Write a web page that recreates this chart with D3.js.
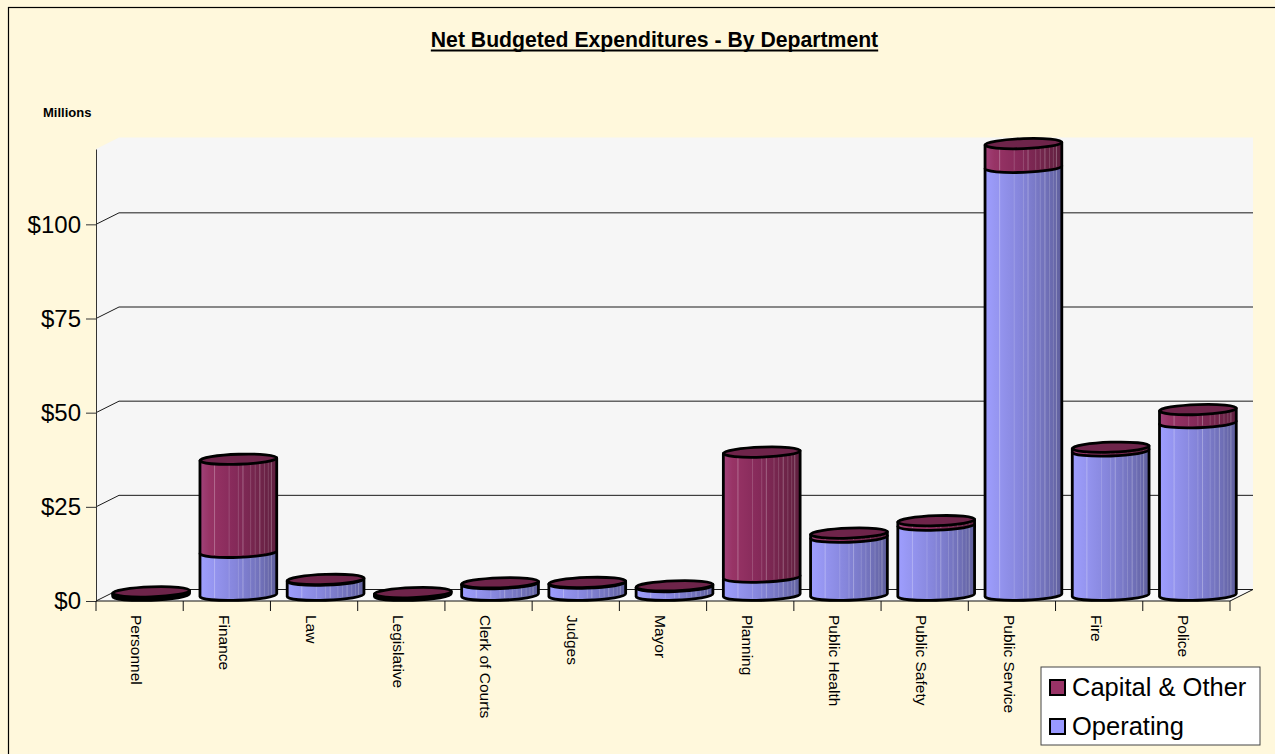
<!DOCTYPE html>
<html>
<head>
<meta charset="utf-8">
<script src="https://cdn.jsdelivr.net/npm/d3@7"></script>
<style>
  html, body { margin: 0; padding: 0; background: #fff8dc; }
  svg { display: block; font-family: "Liberation Sans", Arial, sans-serif; }
</style>
</head>
<body>
<svg id="chart" width="1275" height="754"></svg>
<script>
// Departments and budget amounts (millions of dollars)
const categories = ["Personnel", "Finance", "Law", "Legislative", "Clerk of Courts", "Judges",
  "Mayor", "Planning", "Public Health", "Public Safety", "Public Service", "Fire", "Police"];
const operating = [0.5, 11.4, 4.0, 0.4, 3.1, 3.2, 2.3, 4.8, 15.4, 18.6, 113.6, 38.3, 45.8];
const capital   = [0.4, 24.7, 0.2, 0.3, 0.2, 0.2, 0.2, 33.2, 1.1, 1.2, 6.3, 1.0, 3.5];
const yTicks = [0, 25, 50, 75, 100];
const yMax = 120;
const seriesNames = ["Capital & Other", "Operating"];

const svg = d3.select("#chart");
const W = 1275, H = 754;

// plot geometry (front plane + depth offset of the 3-D box)
const plotLeft = 96, plotRight = 1230, plotBottom = 601, plotTop = 149;
const dx = 23, dy = -11.5;

const y = d3.scaleLinear().domain([0, yMax]).range([plotBottom, plotTop]);
const xCat = d3.scaleBand().domain(categories).range([plotLeft, plotRight]).padding(0);
const xBar = d3.scaleBand().domain(categories).range([plotLeft, plotRight]).paddingInner(0.12).paddingOuter(0.06);

// background and outer frame
svg.append("rect").attr("x", 0).attr("y", 0).attr("width", W).attr("height", H).attr("fill", "#fff8dc");
svg.append("rect").attr("x", 8.5).attr("y", 7.5).attr("width", W + 20).attr("height", H + 20)
  .attr("fill", "none").attr("stroke", "#000").attr("stroke-width", 1.2);

// title
const title = svg.append("text").attr("x", 654.5).attr("y", 46.5).attr("text-anchor", "middle")
  .attr("font-weight", "bold").attr("font-size", 21.2).attr("fill", "#000")
  .text("Net Budgeted Expenditures - By Department");
const tb = title.node().getBBox();
svg.append("rect").attr("x", tb.x).attr("y", 49.5).attr("width", tb.width).attr("height", 2).attr("fill", "#000");

svg.append("text").attr("x", 43).attr("y", 117).attr("font-weight", "bold").attr("font-size", 13)
  .text("Millions");

// walls
const wallFill = "#f6f6f6";
const yTopFront = y(yMax), yTopBack = y(yMax) + dy;
svg.append("path") // back wall
  .attr("d", `M${plotLeft + dx},${yTopBack} L${plotRight + dx},${yTopBack} L${plotRight + dx},${plotBottom + dy} L${plotLeft + dx},${plotBottom + dy} Z`)
  .attr("fill", wallFill);
svg.append("path") // side wall
  .attr("d", `M${plotLeft},${yTopFront} L${plotLeft + dx},${yTopBack} L${plotLeft + dx},${plotBottom + dy} L${plotLeft},${plotBottom} Z`)
  .attr("fill", wallFill);
svg.append("path") // floor
  .attr("d", `M${plotLeft},${plotBottom} L${plotLeft + dx},${plotBottom + dy} L${plotRight + dx},${plotBottom + dy} L${plotRight},${plotBottom} Z`)
  .attr("fill", "#fafafa");

// gridlines on side and back walls
const grid = svg.append("g").attr("stroke", "#1a1a1a").attr("stroke-width", 1).attr("fill", "none");
yTicks.forEach(v => {
  grid.append("path").attr("d", `M${plotLeft},${y(v)} L${plotLeft + dx},${y(v) + dy} L${plotRight + dx},${y(v) + dy}`);
});

// y axis
const yAxis = svg.append("g").attr("transform", `translate(${plotLeft},0)`)
  .call(d3.axisLeft(y).tickValues(yTicks).tickFormat(d => "$" + d).tickSize(10).tickSizeOuter(0).tickPadding(5));
yAxis.select(".domain").attr("stroke", "#333");
yAxis.selectAll(".tick line").attr("stroke", "#333");
yAxis.selectAll(".tick text").attr("font-size", 24).attr("fill", "#000")
  .attr("font-family", "'Liberation Sans', Arial, sans-serif");

// category axis: front floor edge, right floor edge, boundary ticks
const xa = svg.append("g").attr("stroke", "#111").attr("stroke-width", 1).attr("fill", "none");
xa.append("path").attr("d", `M${plotLeft},${plotBottom} L${plotRight},${plotBottom} L${plotRight + dx},${plotBottom + dy}`);
d3.range(categories.length + 1).forEach(i => {
  const xv = xCat.range()[0] + i * xCat.step();
  xa.append("line").attr("x1", xv).attr("x2", xv).attr("y1", plotBottom).attr("y2", plotBottom + 10);
});

// gradients for the cylinder sides
const defs = svg.append("defs");
function sideGradient(id, stops) {
  const g = defs.append("linearGradient").attr("id", id).attr("x1", "0%").attr("x2", "100%").attr("y1", "0%").attr("y2", "0%");
  stops.forEach(([o, c]) => g.append("stop").attr("offset", o).attr("stop-color", c));
}
sideGradient("gOp", [["0%", "#9e9eff"], ["12%", "#9898f4"], ["45%", "#8686dc"], ["80%", "#7070b8"], ["100%", "#5f5f9c"]]);
sideGradient("gCap", [["0%", "#a2427a"], ["12%", "#983466"], ["45%", "#862a5a"], ["80%", "#6f2449"], ["100%", "#5f1f3f"]]);

const seriesStyle = {
  op:  { fill: "url(#gOp)" },
  cap: { fill: "url(#gCap)" }
};
const capTopFill = "#6e244a";
const ry = 5;
const outline = 2.8;
const streaks = [0.19, 0.38, 0.5, 0.56, 0.66, 0.72, 0.78, 0.84, 0.89, 0.93];

const bars = svg.append("g");
categories.forEach((cat, i) => {
  const rx = xBar.bandwidth() / 2;
  const cx = xBar(cat) + rx + dx / 2;
  const yc = v => y(v) + dy / 2;   // ellipse centre line at mid-depth
  const segs = [
    { key: "op", v0: 0, v1: operating[i] },
    { key: "cap", v0: operating[i], v1: operating[i] + capital[i] }
  ];
  const yBase = yc(0);
  const g = bars.append("g")
    .attr("transform", `translate(${cx},${yBase}) skewY(-2) translate(${-cx},${-yBase})`);
  segs.forEach(s => {
    const y0 = yc(s.v0), y1 = yc(s.v1);
    const l = cx - rx, r = cx + rx;
    g.append("path")
      .attr("d", `M${l},${y1} L${l},${y0} A${rx},${ry} 0 0 0 ${r},${y0} L${r},${y1} Z`)
      .attr("fill", seriesStyle[s.key].fill)
      .attr("stroke", "#000").attr("stroke-width", outline).attr("stroke-linejoin", "round");
    if (y0 - y1 > 2) {
      streaks.forEach((f, k) => {
        g.append("line").attr("x1", l + f * 2 * rx).attr("x2", l + f * 2 * rx)
          .attr("y1", y1 + 2).attr("y2", y0 + ry * Math.sqrt(1 - Math.pow(2 * f - 1, 2)) - 2)
          .attr("stroke", "#fff").attr("stroke-opacity", k % 3 === 0 ? 0.28 : 0.16).attr("stroke-width", 1);
      });
    }
  });
  const yt = yc(operating[i] + capital[i]);
  g.append("ellipse").attr("cx", cx).attr("cy", yt).attr("rx", rx).attr("ry", ry)
    .attr("fill", capTopFill).attr("stroke", "#000").attr("stroke-width", outline);
});

// category labels, rotated to read downward
categories.forEach(cat => {
  const cxl = xCat(cat) + xCat.bandwidth() / 2;
  svg.append("text")
    .attr("transform", `translate(${cxl},615) rotate(90)`)
    .attr("x", 0).attr("y", 8.3)
    .attr("font-size", 15.5).attr("fill", "#000")
    .text(cat);
});

// legend
const lg = svg.append("g");
lg.append("rect").attr("x", 1041).attr("y", 667).attr("width", 219).attr("height", 78)
  .attr("fill", "#fff").attr("stroke", "#444").attr("stroke-width", 1);
const legendFill = ["#993366", "#9999ff"];
seriesNames.forEach((name, k) => {
  const yy = 680 + k * 39;
  lg.append("rect").attr("x", 1050).attr("y", yy).attr("width", 15).attr("height", 15)
    .attr("fill", legendFill[k]).attr("stroke", "#000").attr("stroke-width", 2);
  lg.append("text").attr("x", 1072).attr("y", yy + 16).attr("font-size", 25.5).attr("fill", "#000").text(name);
});
</script>
</body>
</html>
